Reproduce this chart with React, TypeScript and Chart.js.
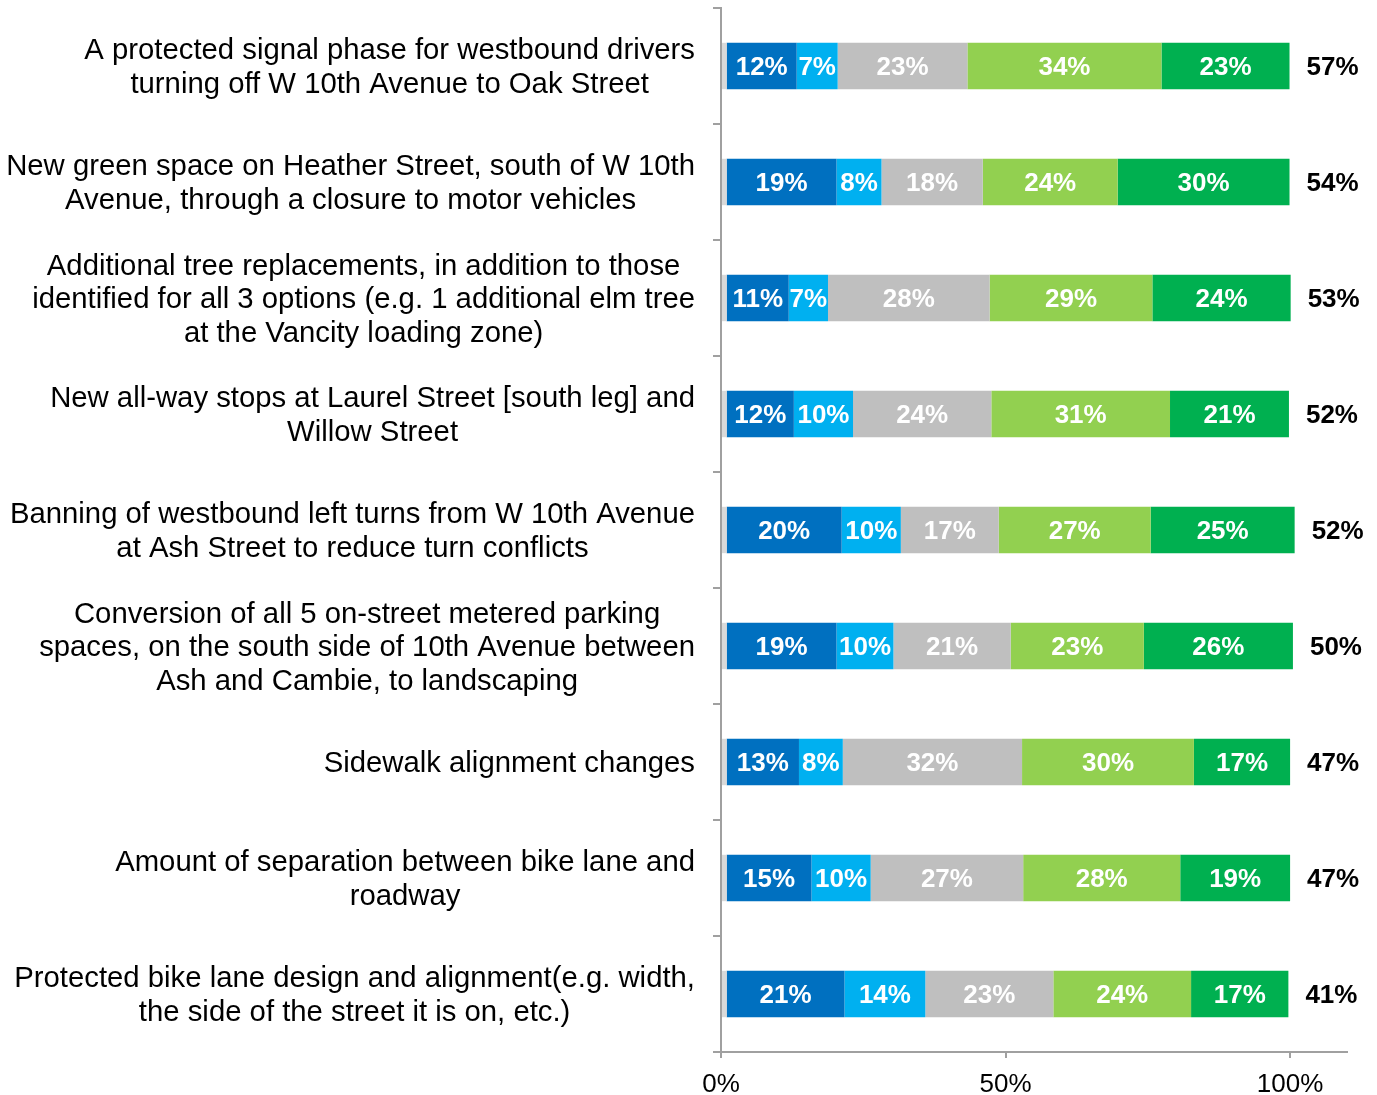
import { useEffect, useRef } from 'react';
import { Chart, registerables } from 'chart.js';

Chart.register(...registerables);

const FONT = '"Liberation Sans", Arial, sans-serif';

const categories: string[][] = [
  ['A protected signal phase for westbound drivers', 'turning off W 10th Avenue to Oak Street'],
  ['New green space on Heather Street, south of W 10th', 'Avenue, through a closure to motor vehicles'],
  ['Additional tree replacements, in addition to those', 'identified for all 3 options (e.g. 1 additional elm tree', 'at the Vancity loading zone)'],
  ['New all-way stops at Laurel Street [south leg] and', 'Willow Street'],
  ['Banning of westbound left turns from W 10th Avenue', 'at Ash Street to reduce turn conflicts'],
  ['Conversion of all 5 on-street metered parking', 'spaces, on the south side of 10th Avenue between', 'Ash and Cambie, to landscaping'],
  ['Sidewalk alignment changes'],
  ['Amount of separation between bike lane and', 'roadway'],
  ['Protected bike lane design and alignment(e.g. width,', 'the side of the street it is on, etc.)'],
];

const noAnswer = [1, 1, 1, 1, 1, 1, 1, 1, 1];
const stronglyOppose = [12.3, 19.3, 10.9, 11.8, 20.2, 19.3, 12.7, 14.9, 20.7];
const oppose = [7.2, 7.9, 6.9, 10.4, 10.4, 10.0, 7.7, 10.4, 14.2];
const neutral = [22.8, 17.8, 28.4, 24.3, 17.2, 20.6, 31.5, 26.8, 22.5];
const support = [34.1, 23.7, 28.6, 31.4, 26.7, 23.4, 30.2, 27.6, 24.2];
const stronglySupport = [22.5, 30.2, 24.3, 20.9, 25.3, 26.2, 16.9, 19.3, 17.1];

const xTickValues = [0, 50, 100];

const seriesList = [
  { label: 'No answer', data: noAnswer, color: '#D9D9D9', showLabel: false },
  { label: 'Strongly oppose', data: stronglyOppose, color: '#0070C0', showLabel: true },
  { label: 'Oppose', data: oppose, color: '#00B0F0', showLabel: true },
  { label: 'Neutral', data: neutral, color: '#BFBFBF', showLabel: true },
  { label: 'Support', data: support, color: '#92D050', showLabel: true },
  { label: 'Strongly support', data: stronglySupport, color: '#00B050', showLabel: true },
];

const labelsPlugin = {
  id: 'customLabels',
  afterDraw(chart: any) {
    const ctx = chart.ctx;
    const yScale = chart.scales.y;
    ctx.save();
    // category labels: block right-aligned, lines centered within block
    ctx.font = `29.3px ${FONT}`;
    ctx.fillStyle = '#000000';
    ctx.textAlign = 'center';
    ctx.textBaseline = 'middle';
    const lineH = 33.5;
    const rightEdge = yScale.right - 26;
    categories.forEach((lines, i) => {
      const y = yScale.getPixelForValue(i) + 2;
      const w = Math.max(...lines.map((l) => ctx.measureText(l).width));
      const cx = rightEdge - w / 2;
      lines.forEach((line, j) => {
        ctx.fillText(line, cx, y + (j - (lines.length - 1) / 2) * lineH);
      });
    });

    // segment labels
    ctx.font = `bold 26px ${FONT}`;
    ctx.fillStyle = '#FFFFFF';
    seriesList.forEach((s, di) => {
      if (!s.showLabel) return;
      const meta = chart.getDatasetMeta(di);
      meta.data.forEach((el: any, i: number) => {
        const cx = (el.x + el.base) / 2;
        ctx.fillText(`${Math.round(s.data[i])}%`, cx, el.y + 2);
      });
    });

    // totals (support + strongly support)
    ctx.fillStyle = '#000000';
    ctx.textAlign = 'left';
    const lastMeta = chart.getDatasetMeta(seriesList.length - 1);
    lastMeta.data.forEach((el: any, i: number) => {
      const total = Math.round(support[i] + stronglySupport[i]);
      ctx.fillText(`${total}%`, el.x + 17, el.y + 2);
    });
    ctx.restore();
  },
};

export default function App() {
  const canvasRef = useRef<HTMLCanvasElement | null>(null);

  useEffect(() => {
    document.body.style.margin = '0';
    const canvas = canvasRef.current;
    if (!canvas) return;
    const chart = new Chart(canvas, {
      type: 'bar',
      data: {
        labels: categories.map((c) => c.join(' ')),
        datasets: seriesList.map((s) => ({
          label: s.label,
          data: s.data,
          backgroundColor: s.color,
          borderWidth: 0,
          barPercentage: 0.4,
          categoryPercentage: 1.0,
        })),
      },
      options: {
        indexAxis: 'y',
        animation: false,
        responsive: true,
        maintainAspectRatio: false,
        layout: { padding: { top: 8, right: 30, left: 0, bottom: 0 } },
        plugins: {
          legend: { display: false },
          tooltip: { enabled: false },
        },
        scales: {
          x: {
            stacked: true,
            min: 0,
            max: 110,
            afterBuildTicks: (scale: any) => {
              scale.ticks = xTickValues.map((v) => ({ value: v }));
            },
            afterFit: (scale: any) => {
              scale.height = 43;
            },
            ticks: {
              stepSize: 50,
              callback: (v: any) => `${v}%`,
              font: { family: FONT, size: 26 },
              color: '#000000',
              padding: 11,
              maxRotation: 0,
            },
            grid: {
              drawOnChartArea: false,
              drawTicks: true,
              tickLength: 6,
              color: '#A0A0A0',
              lineWidth: 2,
            },
            border: { display: true, color: '#A0A0A0', width: 2 },
          },
          y: {
            stacked: true,
            afterFit: (scale: any) => {
              scale.width = 721;
            },
            ticks: { display: false },
            grid: {
              offset: true,
              drawOnChartArea: false,
              drawTicks: true,
              tickLength: 8,
              color: '#A0A0A0',
              lineWidth: 2,
            },
            border: { display: true, color: '#A0A0A0', width: 2 },
          },
        },
      },
      plugins: [labelsPlugin],
    });
    return () => chart.destroy();
  }, []);

  return (
    <div style={{ position: 'relative', width: '1377px', height: '1095px' }}>
      <canvas ref={canvasRef} />
    </div>
  );
}
